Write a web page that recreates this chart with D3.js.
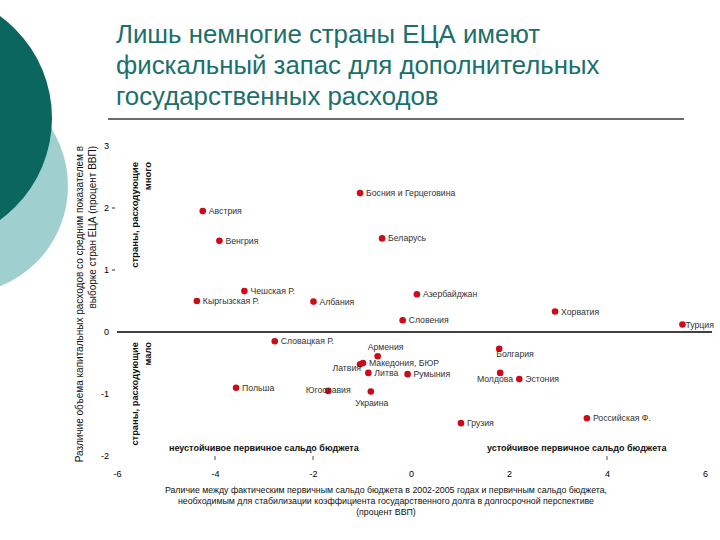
<!DOCTYPE html>
<html><head><meta charset="utf-8">
<script src="https://cdn.jsdelivr.net/npm/d3@7"></script>
<style>
html,body{margin:0;padding:0;background:#fff;}
svg{display:block;}
text{font-family:"Liberation Sans",Arial,sans-serif;}
</style></head>
<body>
<svg id="c" width="720" height="540"></svg>
<script>
// ---- data ----
const titleLines = ["Лишь немногие страны ЕЦА имеют","фискальный запас для дополнительных","государственных расходов"];
const countries = ["Босния и Герцеговина","Австрия","Венгрия","Беларусь","Чешская Р.","Кыргызская Р.","Албания","Азербайджан","Словения","Хорватия","Турция","Словацкая Р.","Армения","Македония, БЮР","Латвия","Литва","Румыния","Польша","Югославия","Украина","Грузия","Болгария","Молдова","Эстония","Российская Ф."];
const primaryBalanceGap = [-1.04,-4.25,-3.91,-0.59,-3.40,-4.37,-1.99,0.12,-0.17,2.94,5.54,-2.78,-0.68,-0.98,-1.04,-0.87,-0.07,-3.57,-1.69,-0.82,1.02,1.80,1.82,2.21,3.59];
const capitalSpendingGap = [2.24,1.95,1.47,1.51,0.66,0.50,0.49,0.61,0.19,0.33,0.12,-0.15,-0.39,-0.50,-0.52,-0.66,-0.68,-0.90,-0.95,-0.96,-1.47,-0.27,-0.66,-0.76,-1.39];
const xTickValues = [-6,-4,-2,0,2,4,6];
const yTickValues = [3,2,1,0,-1,-2];
const yAxisTitle = ["Различие объема капитальных расходов со средним показателем в","выборке стран ЕЦА (процент ВВП)"];
const xAxisTitle = ["Раличие между фактическим первичным сальдо бюджета в 2002-2005 годах и первичным сальдо бюджета,","необходимым для стабилизации коэффициента государственного долга в долгосрочной перспективе","(процент ВВП)"];
const quadrantTop = ["страны, расходующие","много"];
const quadrantBottom = ["страны, расходующие","мало"];
const balanceLeft = "неустойчивое первичное сальдо бюджета";
const balanceRight = "устойчивое первичное сальдо бюджета";

// label placement (layout only)
const labelPlace = {"Армения":"above","Латвия":"left","Украина":"below","Югославия":"center","Молдова":"belowLeft","Болгария":"belowRight","Турция":"tight"};

const svg = d3.select("#c");
svg.append("rect").attr("width",720).attr("height",540).attr("fill","#fff");

// decoration circles
svg.append("circle").attr("cx",-40).attr("cy",186).attr("r",108).attr("fill","#9fcfcf");
svg.append("circle").attr("cx",-74).attr("cy",118).attr("r",126).attr("fill","#0c6660");

// title
const tg = svg.append("g");
titleLines.forEach((t,i)=>{
  tg.append("text").attr("x",116).attr("y",43+i*31).attr("fill","#1b6f6c")
    .attr("font-size",25.8).text(t);
});
svg.append("line").attr("x1",108).attr("x2",684).attr("y1",119).attr("y2",119)
  .attr("stroke","#6b6b6b").attr("stroke-width",2);

// scales
const x = d3.scaleLinear().domain([-6,6]).range([117,705]);
const y = d3.scaleLinear().domain([-2,3]).range([456,146]);
const fmt = d => String(d);

// x axis labels
const xa = svg.append("g").attr("transform","translate(0,467)")
  .call(d3.axisBottom(x).tickValues(xTickValues).tickSize(0).tickPadding(4).tickFormat(fmt));
xa.select(".domain").remove();
xa.selectAll("text").attr("font-size",9).attr("fill","#000").attr("font-family","Liberation Sans, Arial, sans-serif");
// small tick marks
svg.selectAll(".xm").data([-4,-2,4]).enter().append("line")
  .attr("x1",d=>x(d)).attr("x2",d=>x(d)).attr("y1",456).attr("y2",460)
  .attr("stroke","#555").attr("stroke-width",1);

// y axis labels
const ya = svg.append("g").attr("transform","translate(109,0)")
  .call(d3.axisLeft(y).tickValues(yTickValues).tickSize(0).tickPadding(0).tickFormat(fmt));
ya.select(".domain").remove();
ya.selectAll("text").attr("font-size",9).attr("fill","#000").attr("font-family","Liberation Sans, Arial, sans-serif");
svg.selectAll(".ym").data([2,1]).enter().append("line")
  .attr("x1",112).attr("x2",115).attr("y1",d=>y(d)).attr("y2",d=>y(d))
  .attr("stroke","#333").attr("stroke-width",1);

// zero line
svg.append("line").attr("x1",x(-6)).attr("x2",712).attr("y1",y(0)).attr("y2",y(0))
  .attr("stroke","#000").attr("stroke-width",1.3);

// y axis title
yAxisTitle.forEach((t,i)=>{
  svg.append("text").attr("transform",`translate(${83+i*13},146) rotate(-90)`)
    .attr("text-anchor","end").attr("font-size",10).attr("fill","#111").text(t);
});
// x axis title
xAxisTitle.forEach((t,i)=>{
  svg.append("text").attr("x",386).attr("y",493+i*11).attr("text-anchor","middle")
    .attr("font-size",8.8).attr("fill","#111").text(t);
});
// quadrant labels
quadrantTop.forEach((t,i)=>{
  svg.append("text").attr("transform",`translate(${138+i*13},162) rotate(-90)`)
    .attr("text-anchor","end").attr("font-size",9.5).attr("font-weight","bold").attr("fill","#111").text(t);
});
quadrantBottom.forEach((t,i)=>{
  svg.append("text").attr("transform",`translate(${138+i*13},342) rotate(-90)`)
    .attr("text-anchor","end").attr("font-size",9.3).attr("font-weight","bold").attr("fill","#111").text(t);
});
svg.append("text").attr("x",169).attr("y",451).attr("font-size",9).attr("font-weight","bold").attr("fill","#111").text(balanceLeft);
svg.append("text").attr("x",487).attr("y",451).attr("font-size",9).attr("font-weight","bold").attr("fill","#111").text(balanceRight);

// points
const data = countries.map((c,i)=>({name:c,x:primaryBalanceGap[i],y:capitalSpendingGap[i]}));
svg.selectAll(".pt").data(data).enter().append("circle")
  .attr("cx",d=>x(d.x)).attr("cy",d=>y(d.y)).attr("r",3.3).attr("fill","#cc0a1a");

// labels
svg.selectAll(".lbl").data(data).enter().append("text")
  .attr("font-size",8.7).attr("fill","#333")
  .each(function(d){
    const px=x(d.x), py=y(d.y), p=labelPlace[d.name]||"right";
    const s=d3.select(this);
    let lx=px+6, ly=py+3, a="start";
    if(p==="above"){lx=px-10; ly=py-6;}
    else if(p==="left"){lx=px+1; ly=py+7; a="end";}
    else if(p==="below"){lx=px+1; ly=py+14; a="middle";}
    else if(p==="center"){lx=px; ly=py+2; a="middle";}
    else if(p==="belowLeft"){lx=px+13; ly=py+9; a="end";}
    else if(p==="belowRight"){lx=px-3; ly=py+8;}
    else if(p==="tight"){lx=px+3; ly=py+3;}
    s.attr("x",lx).attr("y",ly).attr("text-anchor",a).text(d.name);
  });
</script>
</body></html>
